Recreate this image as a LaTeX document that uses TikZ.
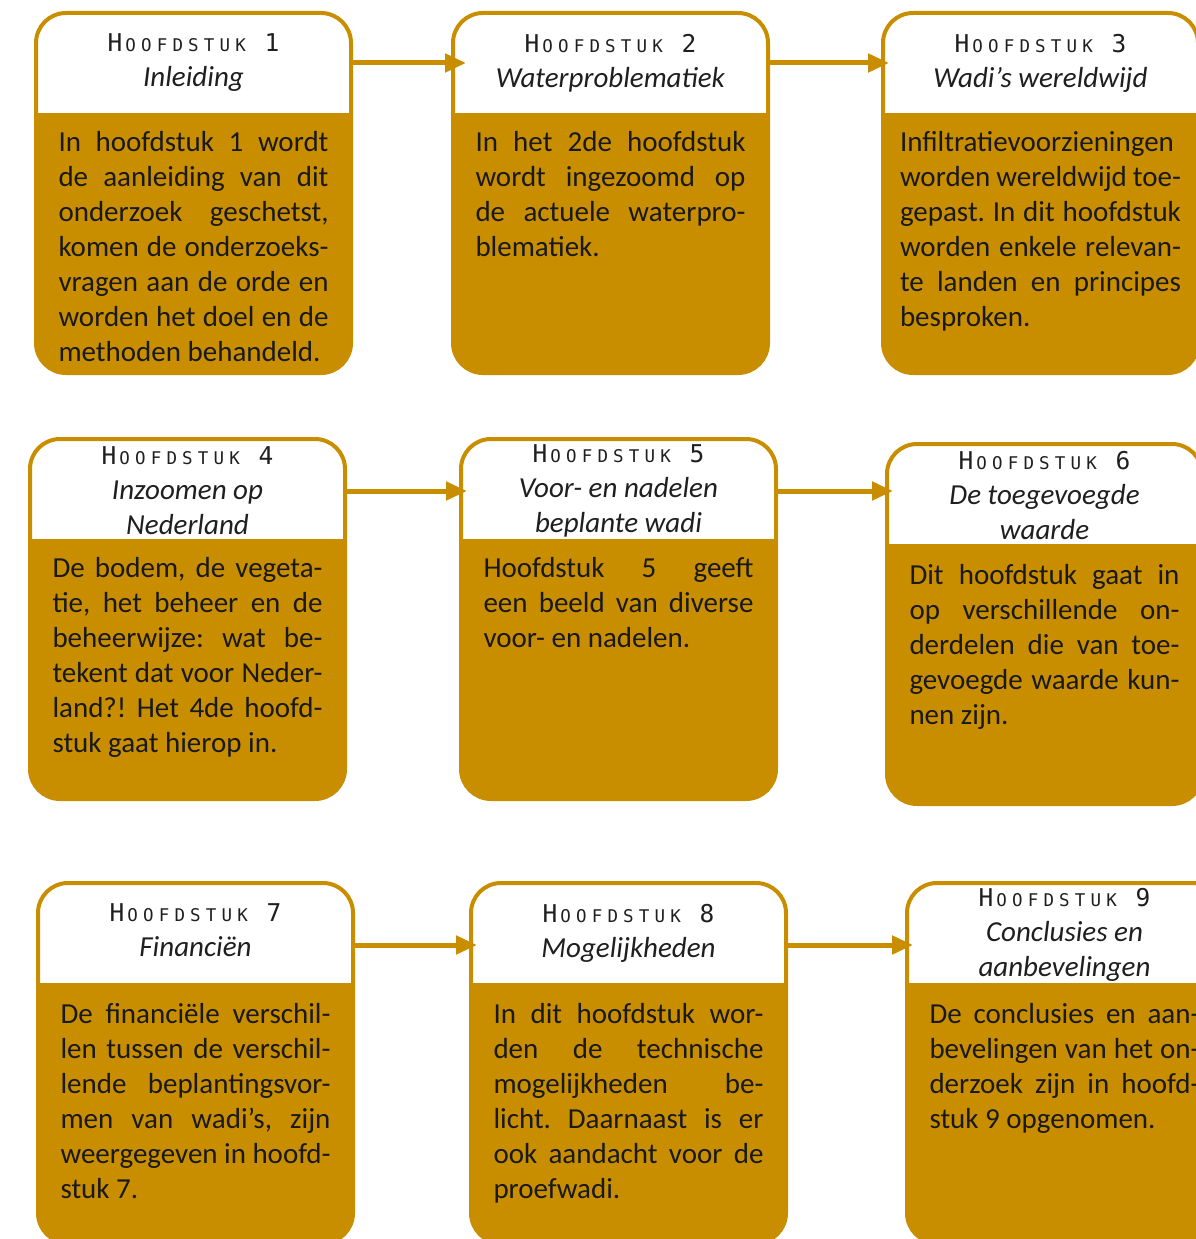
\documentclass[tikz,border=0pt]{standalone}
\usepackage{fontspec}
\setmainfont{Carlito}
\newfontfamily\hdfont{DejaVu Sans Mono}
\usetikzlibrary{arrows.meta}
\definecolor{wadigold}{RGB}{200,142,0}
\newcommand{\hdc}[1]{\makebox[15.7pt][c]{#1}}
\newcommand{\hoofdstuk}[1]{{\upshape\hdfont
  {\fontsize{24.5}{35}\selectfont\hdc{H}}%
  {\fontsize{17.5}{35}\selectfont\hdc{O}\hdc{O}\hdc{F}\hdc{D}\hdc{S}\hdc{T}\hdc{U}\hdc{K}\hdc{}}%
  {\fontsize{24.5}{35}\selectfont\hdc{#1}}}}
\frenchspacing

\begin{document}
\begin{tikzpicture}[x=1pt,y=-1pt,inner sep=0pt,outer sep=0pt,
    frame/.style={anchor=north west,minimum width=315pt,minimum height=360pt,
      rounded corners=30pt,fill=wadigold,draw=wadigold,line width=4pt,
      path picture={\fill[white,sharp corners] (path picture bounding box.north west)
        rectangle ([yshift=-100pt]path picture bounding box.north east);}},
    head/.style={minimum width=315pt,minimum height=100pt,align=center,
      text=black!88,font=\fontsize{29}{35}\selectfont},
    body/.style={anchor=north,text width=270pt,align=justify,text=black!90,
      font=\fontsize{29}{35}\selectfont,
      execute at begin node={\frenchspacing\hyphenpenalty=10000\exhyphenpenalty=10000\tolerance=10000}},
    link/.style={draw=wadigold,line width=5pt,-{Triangle[length=21pt,width=18pt]},shorten >=-6pt}]
    \useasboundingbox (0,0) rectangle (1195,1239);
    % 
    \node[frame] (ch1) at (36, 13) {};
    \node[head] (ch1_head) at ([yshift=-50pt]ch1.north) {\hoofdstuk{1}\\\textit{Inleiding}};
    \node[body] (ch1_body) at ([yshift=-118pt]ch1.north)
    {In hoofdstuk 1 wordt\linebreak de aanleiding van dit\linebreak onderzoek geschetst,\linebreak komen de onderzoeks-\linebreak vragen aan de orde en\linebreak worden het doel en de\linebreak methoden behandeld.};

    \node[frame] (ch2) at (453, 13) {};
    \node[head] (ch2_head) at ([yshift=-50pt]ch2.north) {\hoofdstuk{2}\\\textit{Waterproblematiek}};
    \node[body] (ch2_body) at ([yshift=-118pt]ch2.north)
    {In het 2de hoofdstuk\linebreak wordt ingezoomd op\linebreak de actuele waterpro-\linebreak blematiek.};

    \node[frame] (ch3) at (883, 13) {};
    \node[head] (ch3_head) at ([yshift=-50pt]ch3.north) {\hoofdstuk{3}\\\textit{Wadi’s wereldwijd}};
    \node[body,text width=281pt] (ch3_body) at ([yshift=-118pt]ch3.north)
    {Infiltratievoorzieningen\linebreak worden wereldwijd toe-\linebreak gepast. In dit hoofdstuk\linebreak worden enkele relevan-\linebreak te landen en principes\linebreak besproken.};

    % 
    \node[frame] (ch4) at (30, 439) {};
    \node[head] (ch4_head) at ([yshift=-52pt]ch4.north) {\hoofdstuk{4}\\\textit{Inzoomen op}\\\textit{Nederland}};
    \node[body] (ch4_body) at ([yshift=-118pt]ch4.north)
    {De bodem, de vegeta-\linebreak tie, het beheer en de\linebreak beheerwijze: wat be-\linebreak tekent dat voor Neder-\linebreak land?! Het 4de hoofd-\linebreak stuk gaat hierop in.};

    \node[frame] (ch5) at (461, 439) {};
    \node[head] (ch5_head) at ([yshift=-52pt]ch5.north) {\hoofdstuk{5}\\\textit{Voor- en nadelen}\\\textit{beplante wadi}};
    \node[body] (ch5_body) at ([yshift=-118pt]ch5.north)
    {Hoofdstuk 5 geeft\linebreak een beeld van diverse\linebreak voor- en nadelen.};

    \node[frame] (ch6) at (887, 444) {};
    \node[head] (ch6_head) at ([yshift=-52pt]ch6.north) {\hoofdstuk{6}\\\textit{De toegevoegde}\\\textit{waarde}};
    \node[body] (ch6_body) at ([yshift=-120pt]ch6.north)
    {Dit hoofdstuk gaat in\linebreak op verschillende on-\linebreak derdelen die van toe-\linebreak gevoegde waarde kun-\linebreak nen zijn.};

    % 
    \node[frame] (ch7) at (38, 883) {};
    \node[head] (ch7_head) at ([yshift=-47pt]ch7.north) {\hoofdstuk{7}\\\textit{Financiën}};
    \node[body] (ch7_body) at ([yshift=-120pt]ch7.north)
    {De financiële verschil-\linebreak len tussen de verschil-\linebreak lende beplantingsvor-\linebreak men van wadi’s, zijn\linebreak weergegeven in hoofd-\linebreak stuk 7.};

    \node[frame] (ch8) at (471, 883) {};
    \node[head] (ch8_head) at ([yshift=-50pt]ch8.north) {\hoofdstuk{8}\\\textit{Mogelijkheden}};
    \node[body] (ch8_body) at ([yshift=-120pt]ch8.north)
    {In dit hoofdstuk wor-\linebreak den de technische\linebreak mogelijkheden be-\linebreak licht. Daarnaast is er\linebreak ook aandacht voor de\linebreak proefwadi.};

    \node[frame] (ch9) at (907, 883) {};
    \node[head] (ch9_head) at ([yshift=-52pt]ch9.north) {\hoofdstuk{9}\\\textit{Conclusies en}\\\textit{aanbevelingen}};
    \node[body] (ch9_body) at ([yshift=-120pt]ch9.north)
    {De conclusies en aan-\linebreak bevelingen van het on-\linebreak derzoek zijn in hoofd-\linebreak stuk 9 opgenomen.};

    % 
    \draw[link,shorten >=-13pt] (ch1_head.east) -- (ch1_head.east -| ch2.west);
    \draw[link] (ch2_head.east) -- (ch2_head.east -| ch3.west);
    \draw[link] (ch4_head.east) -- (ch4_head.east -| ch5.west);
    \draw[link] (ch5_head.east) -- (ch5_head.east -| ch6.west);
    \draw[link] ([yshift=-15pt]ch7_head.east) -- ([yshift=-15pt]ch7_head.east -| ch8.west);
    \draw[link] ([yshift=-12pt]ch8_head.east) -- ([yshift=-12pt]ch8_head.east -| ch9.west);
\end{tikzpicture}
\end{document}
